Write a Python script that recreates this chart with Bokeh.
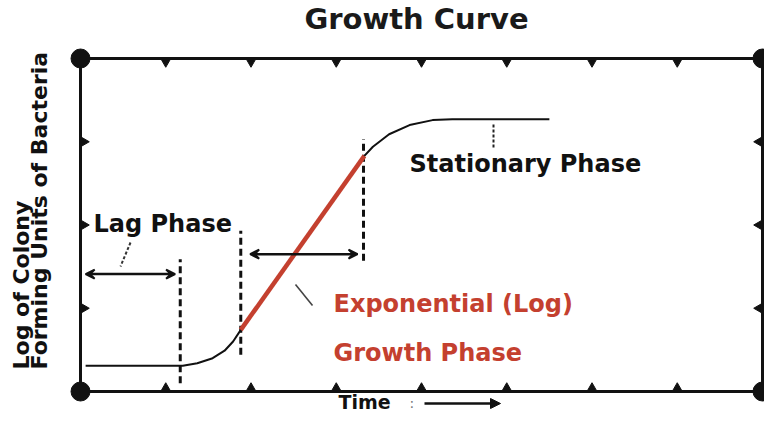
import math
from bokeh.plotting import figure
from bokeh.models import Label, Arrow, VeeHead, NormalHead, BoxAnnotation
from bokeh.embed import file_html
from bokeh.resources import INLINE

# ---------------- data ----------------
lower_t = [0.06, 1.20, 1.37, 1.55, 1.69, 1.79, 1.88]      # lag + acceleration
lower_v = [0.31, 0.31, 0.34, 0.40, 0.49, 0.60, 0.74]
exp_t = [1.88, 3.33]                                        # exponential (log) phase
exp_v = [0.74, 2.83]
upper_t = [3.33, 3.43, 3.62, 3.86, 4.13, 4.36, 5.50]      # deceleration + stationary
upper_v = [2.83, 2.94, 3.09, 3.20, 3.26, 3.27, 3.27]

boundary_t = [1.17, 1.88, 3.32]                             # dashed phase boundaries
boundary_lo = [0.10, 0.44, 1.57]
boundary_hi = [1.59, 1.93, 3.03]

x_ticks = [1, 2, 3, 4, 5, 6, 7]
y_ticks = [1, 2, 3]
x_max, y_max = 8, 4

title_text = "Growth Curve"
ylabel_lines = ["Log of Colony", "Forming Units of Bacteria"]
xlabel_text = "Time"
lag_text = "Lag Phase"
stat_text = "Stationary Phase"
exp_lines = ["Exponential (Log)", "Growth Phase"]

# ---------------- layout helpers (reference pixel -> data) ----------------
W, H = 764, 412
SHIFT = 8                      # canvas is drawn 8px up/left of the reference
X0PX, X8PX = 88, 770
Y0PX, Y4PX = 399, 66
SX = (X8PX - X0PX) / x_max
SY = (Y0PX - Y4PX) / y_max


def dx(px):
    return (px - X0PX) / SX


def dy(py):
    return (Y0PX - py) / SY


p = figure(width=W, height=H, output_backend="svg", toolbar_location=None,
           x_range=(dx(SHIFT), dx(SHIFT + W)), y_range=(dy(SHIFT + H), dy(SHIFT)),
           x_axis_type=None, y_axis_type=None, title=None,
           min_border=0, min_border_left=0, min_border_right=0,
           min_border_top=0, min_border_bottom=0)
p.outline_line_color = None
p.background_fill_color = "white"
p.border_fill_color = "white"

INK = "#111111"
RED = "#c4402f"
FONT = "DejaVu Sans"

# frame
p.add_layout(BoxAnnotation(left=0, right=x_max, bottom=0, top=y_max,
                           fill_alpha=0, line_color=INK, line_alpha=1.0, line_width=3))

# inward pointing tick triangles
off_y = 3 / SY
off_x = 3 / SX
p.scatter(x_ticks, [y_max - off_y] * len(x_ticks), marker="inverted_triangle",
          size=10, color=INK)
p.scatter(x_ticks, [off_y] * len(x_ticks), marker="triangle", size=10, color=INK)
p.scatter([off_x] * len(y_ticks), y_ticks, marker="triangle", angle=-math.pi / 2,
          size=10, color=INK)
p.scatter([x_max - off_x] * len(y_ticks), y_ticks, marker="triangle",
          angle=math.pi / 2, size=10, color=INK)

# corner dots
p.scatter([0, x_max, 0, x_max], [0, 0, y_max, y_max], size=19, color=INK)

# phase boundaries
for t, lo, hi in zip(boundary_t, boundary_lo, boundary_hi):
    p.line([t, t], [lo, hi], line_color=INK, line_width=3, line_dash="7 4")

# growth curve
p.line(lower_t, lower_v, line_color=INK, line_width=2)
p.line(upper_t, upper_v, line_color=INK, line_width=2)
p.line(exp_t, exp_v, line_color=RED, line_width=4.5)

# double arrows for phase durations
for xs, xe, yy in [(0.06, 1.11, 1.41), (1.99, 3.25, 1.65)]:
    p.add_layout(Arrow(x_start=xs, y_start=yy, x_end=xe, y_end=yy,
                       line_color=INK, line_width=2.5,
                       start=VeeHead(size=9, fill_color=INK, line_color=INK, line_width=2),
                       end=VeeHead(size=9, fill_color=INK, line_color=INK, line_width=2)))

# leader lines
p.line([dx(138), dx(128)], [dy(250), dy(274)], line_color="#333333",
       line_width=2, line_dash="3 2")
p.line([dx(501), dx(501)], [dy(132), dy(155)], line_color="#222222",
       line_width=2, line_dash="3 2")
p.line([dx(303), dx(320)], [dy(292), dy(313)], line_color="#444444", line_width=1.6)

# texts (positions given as reference pixel baselines)


def lab(xpx, base_px, text, size, color=INK, align="left", style="bold"):
    p.add_layout(Label(x=dx(xpx), y=dy(base_px - 0.35 * size), text=text,
                       text_font=FONT, text_font_size=f"{size}px",
                       text_font_style=style, text_color=color, text_align=align,
                       text_baseline="middle"))


def vlab(base_px_x, ypx, text, size, color=INK, style="bold"):
    p.add_layout(Label(x=dx(base_px_x - 0.35 * size), y=dy(ypx), text=text,
                       text_font=FONT, text_font_size=f"{size}px",
                       text_font_style=style, text_color=color, text_align="left",
                       text_baseline="middle", angle=math.pi / 2))


lab(424, 37, title_text, 29, color="#1a1a1a", align="center")
lab(101, 240, lag_text, 24)
lab(417, 180, stat_text, 24)
lab(341, 320, exp_lines[0], 24, color=RED)
lab(341, 369, exp_lines[1], 24, color=RED)
vlab(37, 377, ylabel_lines[0], 22)
vlab(55, 377, ylabel_lines[1], 22)
lab(346, 416, xlabel_text, 19)
lab(417, 415, ":", 14, color="#777777", style="normal")
p.add_layout(Arrow(x_start=dx(432), y_start=dy(411), x_end=dx(508), y_end=dy(411),
                   line_color=INK, line_width=2.5,
                   end=NormalHead(size=10, fill_color=INK, line_color=INK)))

open("out.html", "w").write(file_html(p, INLINE))
